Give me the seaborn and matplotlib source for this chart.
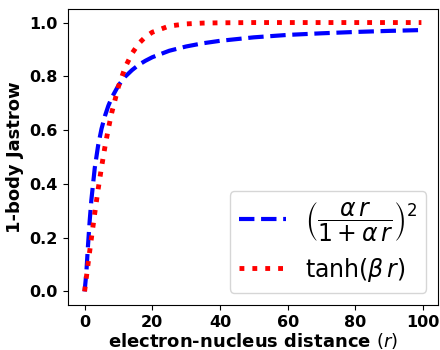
import numpy as np
import pandas as pd
import seaborn as sns
import matplotlib
matplotlib.use('Agg')
import matplotlib.pyplot as plt

# values
r = [0, 0.5, 1, 1.5, 2, 3, 4, 5, 6, 7, 8, 10, 12, 14, 16, 18, 20,
     25, 30, 35, 40, 50, 60, 70, 80, 90, 99.5]
jas_pade = [0.0, 0.067, 0.170, 0.262, 0.340, 0.459, 0.543, 0.605, 0.652, 0.690,
            0.720, 0.766, 0.799, 0.823, 0.843, 0.858, 0.871, 0.895, 0.911,
            0.923, 0.932, 0.945, 0.954, 0.960, 0.965, 0.969, 0.972]
jas_tanh = [0.0, 0.050, 0.100, 0.149, 0.197, 0.291, 0.380, 0.462, 0.537, 0.604,
            0.664, 0.762, 0.834, 0.885, 0.922, 0.947, 0.964, 0.987, 0.995,
            0.998, 0.999, 1.0, 1.0, 1.0, 1.0, 1.0, 1.0]

lbl_pade = r'$\left(\dfrac{\alpha\, r}{1+\alpha\, r}\right)^2$'
lbl_tanh = r'$\tanh(\beta\, r)$'

df = pd.DataFrame({'r': r, 'pade': jas_pade, 'tanh': jas_tanh})

sns.set_style('ticks')
plt.rcParams['font.family'] = ['DejaVu Sans']
plt.rcParams['text.color'] = 'black'
plt.rcParams['axes.labelcolor'] = 'black'
plt.rcParams['xtick.color'] = 'black'
plt.rcParams['ytick.color'] = 'black'
plt.rcParams['axes.edgecolor'] = 'black'

fig = plt.figure(figsize=(4.4, 3.5), dpi=100)
ax = fig.add_axes([0.154, 0.129, 0.842, 0.845])

sns.lineplot(data=df, x='r', y='pade', ax=ax, color='blue', linestyle='--',
             linewidth=3, label=lbl_pade)
sns.lineplot(data=df, x='r', y='tanh', ax=ax, color='red', linestyle=':',
             linewidth=3.5, label=lbl_tanh)

ax.set_xlabel('electron-nucleus distance $(r)$', fontsize=13, fontweight='bold',
              labelpad=1)
ax.set_ylabel('1-body Jastrow', fontsize=13, fontweight='bold')
ax.set_xticks([0, 20, 40, 60, 80, 100])
ax.set_yticks([0.0, 0.2, 0.4, 0.6, 0.8, 1.0])
ax.tick_params(labelsize=11.5, length=3.5, width=0.8, pad=3.5)
for t in ax.get_xticklabels() + ax.get_yticklabels():
    t.set_fontweight('bold')
for s in ax.spines.values():
    s.set_linewidth(0.8)

ax.legend(loc='lower right', fontsize=17)

fig.savefig('out.png', dpi=100)
